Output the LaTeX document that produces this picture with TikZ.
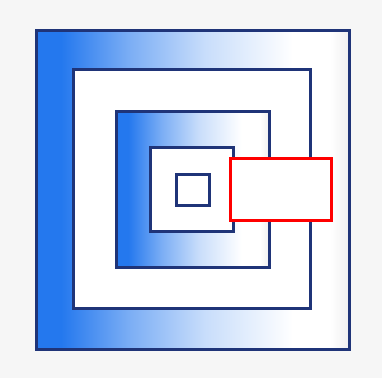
\documentclass[tikz,border=0pt]{standalone}
\usetikzlibrary{shadings}
\definecolor{blueA}{HTML}{2478EE}
\definecolor{navy}{HTML}{1F3478}
\definecolor{bgc}{HTML}{F6F6F6}
\pgfdeclarehorizontalshading{bluefade}{100bp}{color(0bp)=(blueA); color(25bp)=(blueA); color(29bp)=(blueA); color(40bp)=(blueA!60!white); color(52bp)=(blueA!25!white); color(66bp)=(white); color(72bp)=(white); color(75bp)=(black!6!white); color(100bp)=(black!6!white)}
\tikzset{
  sq/.style={draw=navy, line width=3pt},
  gsq/.style={sq, shading=bluefade},
  wsq/.style={sq, fill=white},
  redbox/.style={draw=red, line width=3pt, fill=white}
}
\begin{document}
\begin{tikzpicture}[x=1pt,y=-1pt]
\fill[bgc] (0,0) rectangle (382,378);
\useasboundingbox (0,0) rectangle (382,378);
\path[gsq] (36,30) rectangle (349,349);
\path[wsq] (73,69) rectangle (310,308);
\path[gsq] (116,111) rectangle (269,267);
\path[wsq] (150,147) rectangle (233,231);
\path[wsq] (176,174) rectangle (209,205);
\node[redbox, minimum width=101pt, minimum height=62pt, inner sep=0pt, anchor=north west] (r) at (229,157) {};
\end{tikzpicture}
\end{document}
